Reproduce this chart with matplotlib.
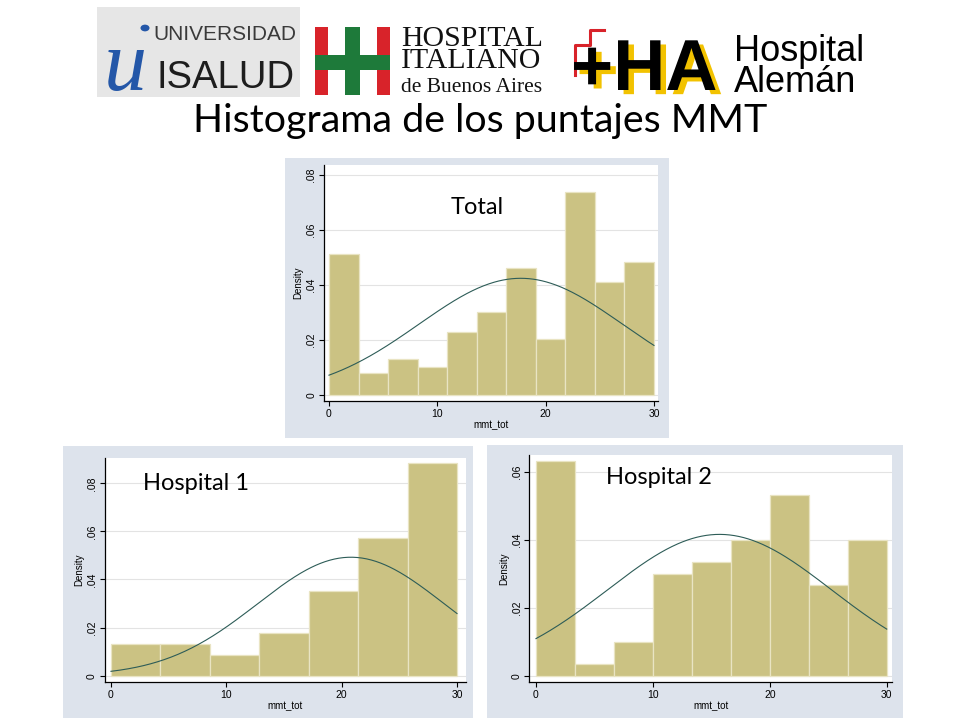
import numpy as np
import matplotlib
matplotlib.use("Agg")
import matplotlib.pyplot as plt
import matplotlib.patheffects as pe
from matplotlib.patches import Rectangle, Circle
from matplotlib.lines import Line2D

# ---------------- data ----------------
x_min, x_max = 0, 30
total_density = [0.0512, 0.0079, 0.0130, 0.0103, 0.0230, 0.0303, 0.0461, 0.0205, 0.0739, 0.0410, 0.0485]
hosp1_density = [0.0132, 0.0132, 0.0086, 0.0176, 0.0352, 0.0571, 0.0883]
hosp2_density = [0.0631, 0.0034, 0.0098, 0.0299, 0.0333, 0.0399, 0.0531, 0.0267, 0.0399]
# normal overlay parameters (mean, sd) of mmt_tot
total_norm = (17.7, 9.4)
hosp1_norm = (20.8, 8.1)
hosp2_norm = (15.7, 9.6)
total_yticks = [0, 0.02, 0.04, 0.06, 0.08]
hosp1_yticks = [0, 0.02, 0.04, 0.06, 0.08]
hosp2_yticks = [0, 0.02, 0.04, 0.06]
xticks = [0, 10, 20, 30]
title = "Histograma de los puntajes MMT"
panel_labels = ["Total", "Hospital 1", "Hospital 2"]

W, H = 960, 720
fig = plt.figure(figsize=(9.6, 7.2), dpi=100)
fig.patch.set_facecolor("white")

def fx(px):
    return px / W

def fy(py):
    return 1 - py / H

def frect(x0, y0, x1, y1, zorder=-5, **kw):
    r = Rectangle((fx(x0), fy(y1)), fx(x1) - fx(x0), fy(y0) - fy(y1),
                  transform=fig.transFigure, zorder=zorder, **kw)
    fig.patches.append(r)
    return r

BAR = "#CBC283"
BAR_EDGE = "#E9E4C3"
CURVE = "#2D5C57"
PANEL_BG = "#DDE3EC"
GRID = "#E3E3E3"
SANS = ["Liberation Sans", "DejaVu Sans"]

def yfmt(v):
    if v == 0:
        return "0"
    return ("%.2f" % v).lstrip("0")

def panel(bg, axbox, xlim, ylim, dens, norm, yticks, label, label_xy):
    frect(*bg, facecolor=PANEL_BG, edgecolor="none", zorder=-5)
    l, t, r, b = axbox
    ax = fig.add_axes([fx(l), fy(b), fx(r) - fx(l), fy(t) - fy(b)])
    ax.set_zorder(1)
    ax.set_facecolor("white")
    n = len(dens)
    edges = np.linspace(x_min, x_max, n + 1)
    ax.bar(edges[:-1], dens, width=np.diff(edges), align="edge",
           color=BAR, edgecolor=BAR_EDGE, linewidth=0.9, zorder=2)
    xs = np.linspace(x_min, x_max, 300)
    mu, sd = norm
    ys = np.exp(-0.5 * ((xs - mu) / sd) ** 2) / (sd * np.sqrt(2 * np.pi))
    ax.plot(xs, ys, color=CURVE, lw=0.8, zorder=3)
    ax.set_xlim(*xlim)
    ax.set_ylim(*ylim)
    ax.set_xticks(xticks)
    ax.set_yticks(yticks)
    ax.set_yticklabels([yfmt(v) for v in yticks], rotation=90, va="center")
    for v in yticks:
        ax.axhline(v, color=GRID, lw=0.8, zorder=1)
    for s in ("top", "right"):
        ax.spines[s].set_visible(False)
    for s in ("left", "bottom"):
        ax.spines[s].set_color("black")
        ax.spines[s].set_linewidth(0.9)
    ax.tick_params(direction="out", length=3.5, width=0.8, labelsize=7.5, pad=2)
    for tl in ax.get_xticklabels() + ax.get_yticklabels():
        tl.set_family(SANS)
    ax.set_xlabel("mmt_tot", fontsize=7, family=SANS, labelpad=1)
    ax.set_ylabel("Density", fontsize=7, family=SANS, labelpad=2)
    ax.text(fx(label_xy[0]), fy(label_xy[1]), label, fontsize=17,
            family=["Lato", "DejaVu Sans"], ha="center", va="center", color="black",
            transform=fig.transFigure, zorder=5)
    return ax

# Total
panel((285, 158, 669, 438), (324, 165, 658, 401), (-0.46, 30.37), (-0.00218, 0.08364),
      total_density, total_norm, total_yticks, panel_labels[0], (477, 208))
# Hospital 1
panel((63, 446, 473, 718), (104.7, 458, 466, 682), (-0.546, 30.78), (-0.00262, 0.0905),
      hosp1_density, hosp1_norm, hosp1_yticks, panel_labels[1], (196, 483))
# Hospital 2
panel((487, 445, 903, 718), (529.3, 455, 892, 682.3), (-0.573, 30.45), (-0.00194, 0.0649),
      hosp2_density, hosp2_norm, hosp2_yticks, panel_labels[2], (659, 478))

# ---------------- title ----------------
fig.text(0.5, fy(121), title, fontsize=28.4, family=["Lato", "DejaVu Sans"],
         ha="center", va="center", color="black")

# ---------------- logos ----------------
# Universidad ISALUD
frect(97, 7, 300, 97, facecolor="#E6E6E6", edgecolor="none", zorder=-5)
fig.text(fx(104), fy(90), "u", fontsize=62, family=["Liberation Serif", "DejaVu Serif"],
         style="italic", color="#2457A8", ha="left", va="baseline")
fig.patches.append(Circle((fx(145), fy(28)), 4.5 / W, transform=fig.transFigure,
                          facecolor="#2457A8", edgecolor="none"))
fig.text(fx(153), fy(40), "UNIVERSIDAD", fontsize=15, family=SANS, fontstretch="condensed",
         color="#3A3A3A", ha="left", va="baseline")
fig.text(fx(157), fy(88), "ISALUD", fontsize=27.5, family=SANS, fontstretch="condensed",
         color="#1E1E1E", ha="left", va="baseline")

# Hospital Italiano
RED = "#D8232A"
GREEN = "#1E7A3A"
frect(315, 27, 328, 95, facecolor=RED, edgecolor="none", zorder=-4)
frect(377, 27, 390, 95, facecolor=RED, edgecolor="none", zorder=-4)
frect(315, 55, 390, 70, facecolor=GREEN, edgecolor="none", zorder=-3)
frect(345, 27, 360, 95, facecolor=GREEN, edgecolor="none", zorder=-3)
SERIF = ["Liberation Serif", "DejaVu Serif"]
fig.text(fx(401), fy(26), "HOSPITAL\nITALIANO", fontsize=21.5, family=SERIF,
         ha="left", va="top", linespacing=0.8, color="#111111")
fig.text(fx(401), fy(97), "de Buenos Aires", fontsize=15.5, family=SERIF,
         ha="left", va="bottom", color="#111111")

# Hospital Alemán
red_pts_x = [575, 575, 590, 590, 604]
red_pts_y = [75, 45, 45, 30, 30]
fig.lines.append(Line2D([fx(v) for v in red_pts_x], [fy(v) for v in red_pts_y],
                        transform=fig.transFigure, color=RED, lw=2.2, zorder=-2))
fig.text(fx(571), fy(90), "+HA", fontsize=52, fontweight="bold",
         family=SANS, color="black", ha="left", va="baseline",
         path_effects=[pe.SimplePatchShadow(offset=(4, -3), shadow_rgbFace="#F2C200", alpha=1.0),
                       pe.Normal()])
fig.text(fx(734), fy(34), "Hospital\nAlemán", fontsize=26, family=SANS,
         color="black", ha="left", va="top", linespacing=0.84)

fig.savefig("out.png", dpi=100, facecolor="white")
